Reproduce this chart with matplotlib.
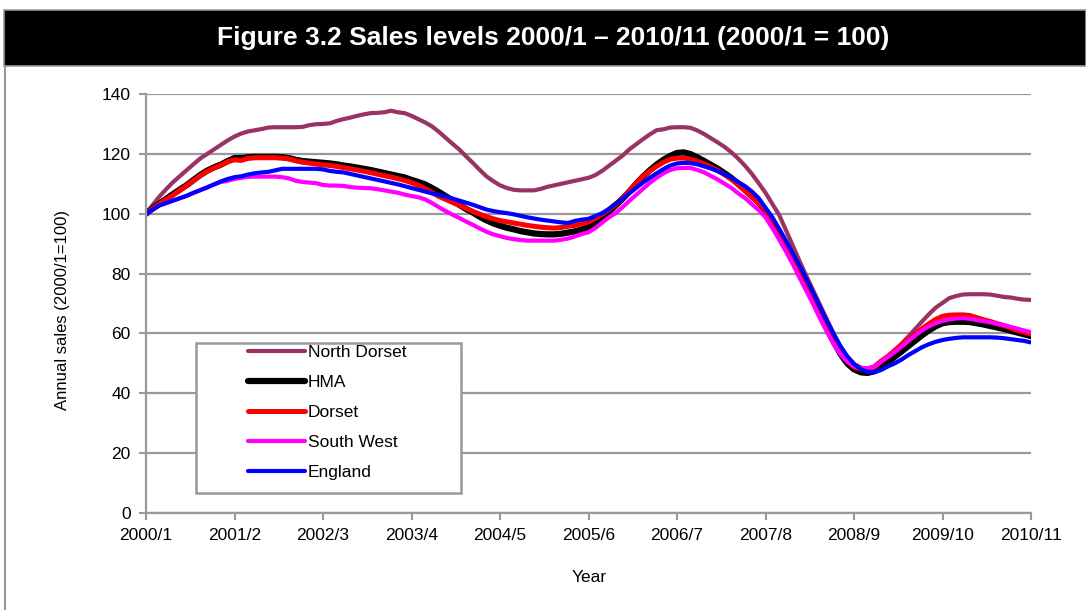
import matplotlib
matplotlib.use("Agg")
import matplotlib.pyplot as plt
from matplotlib.patches import Rectangle
from matplotlib.lines import Line2D

plt.rcParams['font.family'] = ['Liberation Sans', 'DejaVu Sans']

# monthly categories 2000/1 .. 2010/11
months = [f"{2000 + i // 12}/{i % 12 + 1}" for i in range(131)]
tick_idx = list(range(0, 131, 13))

north_dorset = [
    100.0, 103.0, 105.8, 108.3, 110.6, 112.6, 114.6, 116.6, 118.5, 120.0,
    121.5, 123.0, 124.5, 125.8, 126.8, 127.5, 127.9, 128.3, 128.8, 128.9,
    128.9, 128.9, 128.9, 129.0, 129.6, 129.9, 130.0, 130.2, 131.0, 131.6,
    132.1, 132.7, 133.2, 133.6, 133.7, 133.9, 134.4, 133.9, 133.6, 132.7,
    131.6, 130.5, 129.2, 127.4, 125.4, 123.4, 121.5, 119.2, 117.0, 114.7,
    112.5, 110.9, 109.5, 108.6, 108.0, 107.8, 107.8, 107.8, 108.3, 109.0,
    109.5, 110.0, 110.5, 111.0, 111.5, 112.0, 112.9, 114.3, 116.0, 117.7,
    119.4, 121.5, 123.2, 124.9, 126.5, 127.9, 128.2, 128.8, 128.9, 128.9,
    128.7, 127.8, 126.6, 125.2, 123.8, 122.3, 120.5, 118.4, 116.0, 113.3,
    110.2, 107.0, 103.3, 99.6, 94.5, 89.4, 84.2, 79.2, 74.4, 69.6,
    64.8, 60.0, 55.6, 52.2, 49.8, 48.6, 48.2, 48.8, 50.2, 52.2,
    54.4, 56.6, 59.0, 61.5, 64.0, 66.4, 68.6, 70.2, 71.8, 72.5,
    73.0, 73.1, 73.1, 73.1, 73.0, 72.6, 72.2, 72.0, 71.6, 71.3,
    71.2]

hma = [
    100.0, 101.8, 103.4, 105.0, 106.6, 108.1, 109.6, 111.3, 113.0, 114.4,
    115.5, 116.4, 117.6, 118.6, 118.6, 118.9, 119.0, 119.0, 119.0, 119.0,
    118.9, 118.6, 118.0, 117.6, 117.4, 117.2, 117.0, 116.8, 116.5, 116.1,
    115.8, 115.4, 115.0, 114.6, 114.1, 113.6, 113.1, 112.6, 112.1, 111.3,
    110.6, 109.8, 108.6, 107.3, 105.9, 104.5, 103.0, 101.6, 100.4, 99.0,
    97.8, 96.8, 96.0, 95.3, 94.8, 94.2, 93.8, 93.4, 93.2, 93.1,
    93.1, 93.3, 93.7, 94.1, 94.7, 95.5, 96.8, 98.6, 100.6, 102.8,
    105.0, 107.4, 110.0, 112.4, 114.5, 116.4, 118.0, 119.3, 120.3, 120.5,
    119.9, 118.8, 117.6, 116.3, 115.0, 113.5, 111.9, 110.0, 108.0, 105.8,
    103.8, 101.0, 97.5, 93.3, 88.9, 84.5, 80.2, 75.8, 71.2, 66.6,
    62.0, 57.4, 53.2, 50.0, 48.0, 47.0, 46.8, 47.4, 48.8, 50.4,
    52.2, 54.0, 55.8, 57.6, 59.4, 61.0, 62.4, 63.4, 63.8, 63.9,
    63.9, 63.8, 63.4, 63.0, 62.5, 62.0, 61.5, 60.9, 60.3, 59.7,
    59.1]

dorset = [
    100.0, 101.7, 103.3, 104.8, 106.3, 107.9, 109.5, 111.1, 112.8, 114.2,
    115.3, 116.2, 117.4, 118.0, 117.8, 118.5, 118.7, 118.7, 118.7, 118.7,
    118.6, 118.3, 117.7, 117.2, 116.9, 116.6, 116.3, 116.1, 115.8, 115.4,
    115.0, 114.6, 114.2, 113.7, 113.2, 112.7, 112.2, 111.7, 111.1, 110.4,
    109.5, 108.4, 107.1, 105.8, 104.8, 103.8, 102.8, 101.8, 100.8, 99.9,
    99.0, 98.3, 97.7, 97.3, 96.9, 96.5, 96.1, 95.8, 95.5, 95.3,
    95.2, 95.4, 95.8, 96.1, 96.6, 97.3, 98.4, 99.8, 101.4, 103.2,
    105.2, 107.6, 110.1, 112.5, 114.3, 115.8, 117.2, 118.2, 118.6, 118.6,
    118.2, 117.5, 116.6, 115.6, 114.4, 113.0, 111.5, 109.6, 107.6, 105.6,
    103.6, 101.3, 97.6, 93.4, 89.0, 84.7, 80.4, 76.0, 71.5, 67.0,
    62.4, 57.9, 53.8, 50.8, 48.8, 48.0, 47.9, 48.9, 50.8, 52.4,
    54.3, 56.2, 58.0, 59.8, 61.6, 63.2, 64.7, 65.7, 66.1, 66.2,
    66.2, 66.0, 65.3, 64.6, 64.0, 63.3, 62.6, 61.8, 61.0, 60.4,
    59.8]

south_west = [
    100.0, 101.4, 102.8, 103.6, 104.4, 105.2, 106.0, 107.0, 107.9, 108.8,
    109.8, 110.6, 111.0, 111.6, 112.0, 112.3, 112.4, 112.4, 112.4, 112.4,
    112.2, 111.8, 111.0, 110.6, 110.4, 110.2, 109.6, 109.4, 109.4, 109.3,
    108.9, 108.7, 108.6, 108.5, 108.2, 107.8, 107.4, 107.0, 106.4, 105.9,
    105.5, 104.8, 103.6, 102.2, 100.9, 99.7, 98.6, 97.4, 96.3, 95.1,
    94.0, 93.1, 92.5, 91.9, 91.5, 91.2, 91.0, 91.0, 91.0, 91.0,
    91.0, 91.3, 91.7, 92.4, 93.2, 93.8, 95.2, 97.0, 98.8, 100.2,
    102.2, 104.3, 106.3, 108.3, 110.3, 112.0, 113.5, 114.6, 115.2, 115.3,
    115.3, 114.6, 113.8, 112.6, 111.4, 110.0, 108.6, 106.8, 105.2, 103.2,
    101.2, 98.8, 95.2, 91.4, 87.4, 83.2, 78.6, 74.2, 69.8, 65.0,
    60.6, 56.4, 53.0, 50.6, 49.0, 48.4, 48.4, 48.8, 50.6, 52.2,
    53.8, 55.6, 57.5, 59.3, 61.0, 62.4, 63.4, 64.2, 64.7, 65.0,
    65.1, 64.9, 64.5, 64.1, 63.7, 63.3, 62.8, 62.2, 61.6, 61.0,
    60.4]

england = [
    100.0, 101.4, 102.8, 103.6, 104.4, 105.2, 106.0, 107.0, 107.9, 108.8,
    109.8, 110.8, 111.6, 112.2, 112.5, 113.1, 113.5, 113.8, 114.0, 114.5,
    115.0, 115.0, 115.0, 115.0, 115.0, 115.0, 114.8, 114.3, 114.0, 113.8,
    113.3, 112.8, 112.3, 111.8, 111.3, 110.8, 110.3, 109.8, 109.2, 108.6,
    108.0, 107.4, 106.8, 106.3, 105.7, 105.1, 104.4, 103.7, 103.0, 102.2,
    101.4, 100.9, 100.5, 100.2, 99.8, 99.3, 98.8, 98.4, 98.0, 97.7,
    97.4, 97.1, 96.9, 97.6, 98.0, 98.3, 99.2, 100.2, 101.6, 103.4,
    105.0, 106.8, 108.6, 110.4, 112.0, 113.5, 114.9, 116.1, 116.8, 117.0,
    116.9, 116.5, 115.8, 115.1, 114.2, 113.2, 112.0, 110.6, 109.2, 107.4,
    105.2, 102.0, 98.8, 95.0, 91.0, 86.8, 82.6, 78.2, 73.6, 68.8,
    64.2, 59.8, 55.8, 52.4, 49.8, 48.0, 47.2, 47.0, 47.8, 49.0,
    50.0, 51.3, 52.8, 54.1, 55.4, 56.4, 57.2, 57.8, 58.2, 58.5,
    58.7, 58.7, 58.7, 58.7, 58.7, 58.6, 58.4, 58.1, 57.8, 57.5,
    57.0]

series = [
    ("North Dorset", north_dorset, "#993366", 3.0),
    ("HMA", hma, "black", 4.5),
    ("Dorset", dorset, "red", 3.6),
    ("South West", south_west, "#ff00ff", 3.0),
    ("England", england, "blue", 3.0),
]

W, H = 1086, 610
fig = plt.figure(figsize=(W / 100, H / 100), dpi=100)

# title bar
fig.patches.append(Rectangle((4 / W, 1 - 66 / H), 1 - 4 / W, 56 / H,
                             transform=fig.transFigure, facecolor="black",
                             edgecolor="#999999", linewidth=1.2))
fig.text(553 / W, 1 - 38 / H, "Figure 3.2 Sales levels 2000/1 \u2013 2010/11 (2000/1 = 100)",
         color="white", fontsize=19, fontweight="bold", ha="center", va="center")
# left frame line
fig.add_artist(Line2D([5 / W, 5 / W], [0, 1 - 66 / H], transform=fig.transFigure,
                      color="#999999", linewidth=1.5))

ax = fig.add_axes([146 / W, 1 - 513 / H, 885 / W, 419 / H])
x = list(range(len(months)))
for name, vals, col, lw in series:
    ax.plot(x, vals, color=col, linewidth=lw, label=name, solid_capstyle="round")

ax.set_xlim(0, 130)
ax.set_ylim(0, 140)
ax.set_yticks(range(0, 141, 20))
ax.set_xticks(tick_idx)
ax.set_xticklabels([months[i] for i in tick_idx])
ax.yaxis.grid(True, color="#999999", linewidth=1.6)
ax.set_axisbelow(True)
for s in ["top", "right"]:
    ax.spines[s].set_visible(False)
for s in ["left", "bottom"]:
    ax.spines[s].set_color("#999999")
    ax.spines[s].set_linewidth(1.6)
ax.tick_params(axis="both", colors="#999999", width=1.5, length=5,
               labelcolor="black", labelsize=12.5)
ax.tick_params(axis="y", pad=6)
ax.tick_params(axis="x", pad=6)

fig.text(62 / W, 1 - 310 / H, "Annual sales (2000/1=100)", rotation=90,
         ha="center", va="center", fontsize=12)
fig.text(589 / W, 1 - 577 / H, "Year", ha="center", va="center", fontsize=12.5)

# legend frame and entries
fig.patches.append(Rectangle((196 / W, 1 - 493 / H), 265 / W, 150 / H,
                             transform=fig.transFigure, facecolor="white",
                             edgecolor="#999999", linewidth=1.8, zorder=5))
leg = fig.legend(loc="upper left", bbox_to_anchor=(248 / W, 1 - 345 / H),
                 frameon=False, fontsize=12.5, handlelength=3.3,
                 handletextpad=0.15, labelspacing=0.85, borderpad=0,
                 borderaxespad=0)
leg.set_zorder(6)

fig.savefig("out.png", dpi=100)
